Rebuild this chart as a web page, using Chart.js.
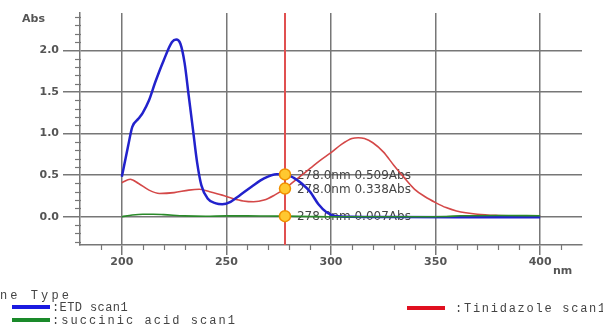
<!DOCTYPE html>
<html>
<head>
<meta charset="utf-8">
<script src="https://cdn.jsdelivr.net/npm/chart.js@4.4.1/dist/chart.umd.min.js"></script>
<style>
html,body{margin:0;padding:0;background:#fff;}
#wrap{width:603px;height:327px;position:relative;}
</style>
</head>
<body>
<div id="wrap"><canvas id="spec"></canvas></div>
<script>
// ETD scan1
const etdNm  = [200,203,205,208,210,213,216,220,224,226,228,230,232,234,236,238,241,245,248,252,256,262,268,274,278,282,286,290,294,298,302,310,330,360,400];
const etdAbs = [0.48,0.85,1.08,1.18,1.25,1.40,1.62,1.88,2.10,2.13,2.08,1.85,1.45,1.05,0.65,0.38,0.22,0.16,0.15,0.18,0.25,0.36,0.46,0.51,0.509,0.47,0.40,0.30,0.15,0.05,0.01,0.0,-0.003,-0.005,-0.005];

// Tinidazole scan1
const tinNm  = [200,204,208,213,218,225,232,237,242,248,253,258,263,268,273,278,282,286,290,295,300,305,310,313,316,320,325,330,335,340,345,350,355,360,370,380,390,400];
const tinAbs = [0.41,0.45,0.40,0.32,0.28,0.29,0.32,0.33,0.30,0.26,0.22,0.19,0.18,0.20,0.26,0.338,0.42,0.50,0.58,0.68,0.77,0.87,0.94,0.95,0.94,0.89,0.78,0.62,0.47,0.33,0.24,0.17,0.11,0.07,0.03,0.015,0.01,0.01];

// succinic acid scan1
const sucNm  = [200,205,210,215,220,230,240,250,260,270,278,290,300,320,340,355,362,380,400];
const sucAbs = [0.0,0.02,0.03,0.03,0.025,0.01,0.005,0.01,0.01,0.008,0.007,0.003,0.0,0.0,0.0,0.003,0.012,0.015,0.012];

// cursor
const cursorNm = 278;
const cursorAbs = [0.509, 0.338, 0.007];
const cursorText = ["278.0nm 0.509Abs", "278.0nm 0.338Abs", "278.0nm 0.007Abs"];

const xMajor = [200, 250, 300, 350, 400];
const yMajor = [0.0, 0.5, 1.0, 1.5, 2.0];
const xRange = [180, 420];
const yRange = [-0.34, 2.45];

const legendHead = "ne Type";

const pts = (xs, ys) => xs.map((x, i) => ({x: x, y: ys[i]}));

const axisCol = "#777";
const tickFont = {family: "DejaVu Sans", size: 11, weight: "bold"};

// minor ticks, axis words, cursor texts
const extras = {
  id: "extras",
  beforeDatasetsDraw(chart) {
    const ctx = chart.ctx, xs = chart.scales.x, ys = chart.scales.y;
    const a = chart.chartArea;
    ctx.save();
    ctx.strokeStyle = axisCol;
    ctx.lineWidth = 1.2;
    for (let v = 190; v <= 410; v += 10) {
      if (v % 50 === 0 && v >= 200 && v <= 400) continue;
      const px = Math.round(xs.getPixelForValue(v)) + 0.5;
      ctx.beginPath(); ctx.moveTo(px, a.bottom); ctx.lineTo(px, a.bottom + 5); ctx.stroke();
    }
    for (let i = -3; i <= 24; i++) {
      if (i % 5 === 0 && i >= 0 && i <= 20) continue;
      const py = Math.round(ys.getPixelForValue(i / 10)) + 0.5;
      ctx.beginPath(); ctx.moveTo(a.left - 5, py); ctx.lineTo(a.left + 1, py); ctx.stroke();
    }
    // cursor readouts
    ctx.font = "12px 'DejaVu Sans'";
    ctx.fillStyle = "#444";
    ctx.textBaseline = "middle";
    const cx = xs.getPixelForValue(cursorNm);
    cursorAbs.forEach((v, i) => {
      ctx.fillText(cursorText[i], cx + 12, ys.getPixelForValue(v) + 1);
    });
    ctx.restore();
  },
  afterDraw(chart) {
    const ctx = chart.ctx, a = chart.chartArea;
    ctx.save();
    ctx.fillStyle = "#555";
    ctx.font = "bold 11px 'DejaVu Sans'";
    ctx.textBaseline = "middle";
    ctx.fillText("Abs", 22, 19);
    ctx.fillText("nm", a.right - 29, 271);

    // legend
    const fitText = (t, x, y, w) => {
      ctx.letterSpacing = "0px";
      const m = ctx.measureText(t).width;
      ctx.letterSpacing = ((w - m) / t.length).toFixed(2) + "px";
      ctx.fillText(t, x, y);
    };
    ctx.font = "12px 'Liberation Mono'";
    ctx.fillStyle = "#444";
    fitText(legendHead, 0, 296, 72);
    const ds = chart.data.datasets;
    const slots = [
      {i: 0, lx: 12, ly: 307, tx: 52, w: 76},
      {i: 2, lx: 12, ly: 320, tx: 52, w: 185},
      {i: 1, lx: 407, ly: 308, tx: 455, w: 152}
    ];
    slots.forEach(s => {
      ctx.strokeStyle = ds[s.i].legendColor;
      ctx.lineWidth = 4;
      ctx.beginPath(); ctx.moveTo(s.lx, s.ly); ctx.lineTo(s.lx + 38, s.ly); ctx.stroke();
      fitText(":" + ds[s.i].label, s.tx, s.ly + 1, s.w);
    });
    ctx.restore();
  }
};

new Chart(document.getElementById("spec"), {
  type: "line",
  data: {
    datasets: [
      {label: "ETD scan1", data: pts(etdNm, etdAbs), borderColor: "#2222cc", legendColor: "#1a1ae0", borderWidth: 2.5, pointRadius: 0, cubicInterpolationMode: "monotone", order: 2},
      {label: "Tinidazole scan1", data: pts(tinNm, tinAbs), borderColor: "#d44848", legendColor: "#e01020", borderWidth: 1.6, pointRadius: 0, cubicInterpolationMode: "monotone", order: 3},
      {label: "succinic acid scan1", data: pts(sucNm, sucAbs), borderColor: "#2a8a2a", legendColor: "#1a8a2a", borderWidth: 1.6, pointRadius: 0, cubicInterpolationMode: "monotone", order: 1},
      {label: "cursor", data: [{x: cursorNm, y: yRange[0]}, {x: cursorNm, y: yRange[1]}], borderColor: "#e05050", borderWidth: 2, pointRadius: 0, order: 4},
      {label: "marks", data: cursorAbs.map(v => ({x: cursorNm, y: v})), showLine: false, pointRadius: 5.5, pointBackgroundColor: "#ffc830", pointBorderColor: "#f09000", pointBorderWidth: 1.5, order: 0}
    ]
  },
  options: {
    responsive: true,
    maintainAspectRatio: false,
    animation: false,
    layout: {padding: {left: 0, top: 13, right: 21, bottom: 0}},
    plugins: {legend: {display: false}, tooltip: {enabled: false}},
    scales: {
      x: {
        type: "linear",
        min: xRange[0], max: xRange[1],
        afterBuildTicks: s => { s.ticks = xMajor.map(v => ({value: v})); },
        afterFit: s => { s.height = 82; },
        grid: {color: axisCol, lineWidth: 1.5, tickLength: 10},
        border: {display: true, color: axisCol, width: 1.5},
        ticks: {font: tickFont, color: "#555", padding: 1, maxRotation: 0, callback: v => String(v)}
      },
      y: {
        min: yRange[0], max: yRange[1],
        afterBuildTicks: s => { s.ticks = yMajor.map(v => ({value: v})); },
        afterFit: s => { s.width = 80; },
        grid: {color: axisCol, lineWidth: 1.5, tickLength: 17},
        border: {display: true, color: axisCol, width: 1.5},
        ticks: {font: tickFont, color: "#555", padding: 4, callback: v => v.toFixed(1)}
      }
    }
  },
  plugins: [extras]
});
</script>
</body>
</html>
